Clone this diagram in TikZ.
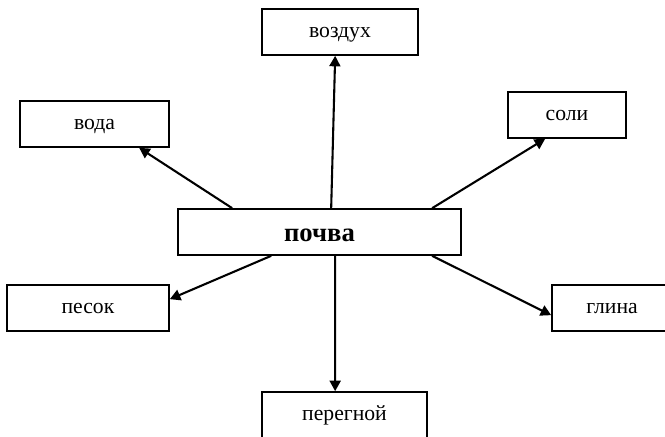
\documentclass[tikz,border=0pt]{standalone}
\usepackage{fontspec}
\setmainfont{Liberation Serif}
\usetikzlibrary{shapes, arrows.meta, positioning}

\begin{document}
\begin{tikzpicture}[
            x=0.6pt, y=-0.6pt,
            box/.style={draw, rectangle, line width=1pt, minimum height=27.6pt, inner sep=0pt, text height=7pt, text depth=0pt, font=\fontsize{13}{16}\selectfont},
            link/.style={->, line width=1.25pt},
            >={Triangle[length=6.3pt, width=6.6pt]}
        ]
            \useasboundingbox (0,0) rectangle (665,437);
            \node[box, minimum width=169.8pt, text height=11.8pt, font=\fontsize{16}{19}\selectfont\bfseries] (pochva) at (319.5,232) {почва};
            \node[box, minimum width=93.6pt] (vozdukh) at (340,32) {воздух};
            \node[box, minimum width=89.4pt] (voda) at (94.5,124) {вода};
            \node[box, minimum width=70.8pt] (soli) at (567,115) {соли};
            \node[box, minimum width=97.2pt] (pesok) at (88,308) {песок};
            \node[box, minimum width=72pt] (glina) at (612,308) {глина};
            \node[box, minimum width=99pt] (peregnoi) at (344.5,415) {перегной};
            
            \draw[link] ([xshift=33pt]pochva.north west) -- ([xshift=72pt]voda.south west);
            \draw[link] ([xshift=92.4pt]pochva.north west) -- ([xshift=44.4pt]vozdukh.south west);
            \draw[link] ([xshift=153pt]pochva.north west) -- ([xshift=22.8pt]soli.south west);
            \draw[link] ([xshift=56.4pt]pochva.south west) -- ([yshift=-9pt]pesok.north east);
            \draw[link] ([xshift=94.8pt]pochva.south west) -- ([xshift=44.4pt]peregnoi.north west);
            \draw[link] ([xshift=153pt]pochva.south west) -- ([yshift=-18.6pt]glina.north west);
        \end{tikzpicture}
\end{document}
